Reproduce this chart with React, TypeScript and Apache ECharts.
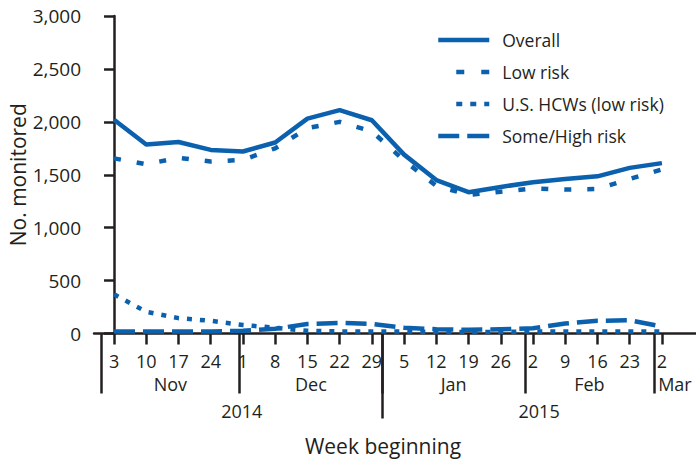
import React, { useEffect, useRef } from "react";
import * as echarts from "echarts";

// ---- Data ----
const weekDates = [
  "2014-11-03", "2014-11-10", "2014-11-17", "2014-11-24",
  "2014-12-01", "2014-12-08", "2014-12-15", "2014-12-22", "2014-12-29",
  "2015-01-05", "2015-01-12", "2015-01-19", "2015-01-26",
  "2015-02-02", "2015-02-09", "2015-02-16", "2015-02-23",
  "2015-03-02",
];
const weekLabels = ["3", "10", "17", "24", "1", "8", "15", "22", "29", "5", "12", "19", "26", "2", "9", "16", "23", "2"];
const monthStarts = ["2014-11-01", "2014-12-01", "2015-01-01", "2015-02-01", "2015-03-01"];
const monthLabels = ["Nov", "Dec", "Jan", "Feb", "Mar"];
const yearStarts = ["2014-11-01", "2015-01-01"];
const yearLabels = ["2014", "2015"];

const overall = [2020, 1785, 1810, 1735, 1720, 1805, 2030, 2110, 2015, 1690, 1450, 1335, 1385, 1430, 1460, 1485, 1565, 1610];
const lowRisk = [1655, 1600, 1660, 1625, 1640, 1750, 1940, 2000, 1910, 1635, 1395, 1310, 1340, 1370, 1360, 1365, 1460, 1550];
const usHcws = [370, 205, 145, 120, 80, 55, 25, 20, 20, 20, 15, 15, 15, 20, 20, 20, 20, 20];
const someHigh = [20, 20, 20, 20, 25, 45, 90, 100, 90, 55, 40, 35, 40, 50, 95, 120, 125, 65];

const seriesNames = ["Overall", "Low risk", "U.S. HCWs (low risk)", "Some/High risk"];

// ---- helpers ----
const DAY = 86400000;
const t0 = Date.parse(weekDates[0] + "T00:00:00Z");
const dayOf = (s: string) => (Date.parse(s + "T00:00:00Z") - t0) / DAY;

const X_MIN = -4.35;
const X_MAX = 126.4;
const SEP_SHIFT = -0.75;

const weekDays = weekDates.map(dayOf);
const monthSeps = monthStarts.map((d) => dayOf(d) + SEP_SHIFT);
const monthCenters = monthSeps.map((s, i) => (s + (i + 1 < monthSeps.length ? monthSeps[i + 1] : X_MAX)) / 2);
const yearSeps = yearStarts.map((d) => dayOf(d) + SEP_SHIFT);
const yearCenters = yearSeps.map((s, i) => (s + (i + 1 < yearSeps.length ? yearSeps[i + 1] : X_MAX)) / 2);

const lookup = (vals: number[], labels: string[]) => (v: number) => {
  const i = vals.findIndex((x) => Math.abs(x - v) < 1e-6);
  return i >= 0 ? labels[i] : "";
};

const BLUE = "#0b61ae";
const INK = "#231f20";
const FONT = "'Open Sans', 'Noto Sans', sans-serif";
const LINE_W = 4.5;
const XLABEL_SIZE = 18;

// line dash patterns (series) and legend-key patterns
const seriesDash: (number[] | "solid")[] = ["solid", [7, 16], [5, 8], [21, 8]];
const legendDash: (number[] | "solid")[] = ["solid", [0, 18, 8, 17, 8, 60], [0, 18, 6, 8, 6, 8, 5, 60], [21, 8, 22, 60]];

export default function App() {
  const ref = useRef<HTMLDivElement>(null);

  useEffect(() => {
    if (!ref.current) return;
    const chart = echarts.init(ref.current, undefined, { renderer: "svg" });

    const toPairs = (arr: number[]) => arr.map((v, i) => [weekDays[i], v]);

    const lineSeries = (name: string, data: number[], dash: number[] | "solid") => ({
      name,
      type: "line",
      xAxisIndex: 0,
      yAxisIndex: 0,
      data: toPairs(data),
      symbol: "none",
      smooth: false,
      lineStyle: { color: BLUE, width: LINE_W, type: dash, cap: "butt", join: "round" },
      itemStyle: { color: BLUE },
    });

    const baseX = {
      type: "value",
      position: "bottom",
      min: X_MIN,
      max: X_MAX,
      splitLine: { show: false },
    };

    const xLabel = (vals: number[], labels: string[], margin: number) => ({
      show: true,
      customValues: vals,
      formatter: lookup(vals, labels),
      margin,
      fontFamily: FONT,
      fontSize: XLABEL_SIZE,
      lineHeight: XLABEL_SIZE,
      color: INK,
    });

    const option: any = {
      animation: false,
      textStyle: { fontFamily: FONT, color: INK },
      grid: { left: 94, right: 0, top: 16, bottom: 127.5, containLabel: false, outerBoundsMode: "none" },
      legend: {
        orient: "vertical",
        left: 436,
        top: 31,
        padding: 0,
        itemWidth: 51,
        itemHeight: 18,
        itemGap: 14,
        itemStyle: { opacity: 0 },
        data: seriesNames.map((name, i) => ({
          name,
          lineStyle: { color: BLUE, width: LINE_W, type: legendDash[i], cap: "butt" },
          itemStyle: { opacity: 0 },
        })),
        textStyle: { fontFamily: FONT, fontSize: 17.5, color: INK, padding: [0, 0, 0, 8] },
      },
      xAxis: [
        {
          ...baseX,
          axisLine: { show: true, lineStyle: { color: INK, width: 2.5 } },
          axisTick: { show: true, customValues: weekDays, length: 11, lineStyle: { color: INK, width: 2.5 } },
          axisLabel: xLabel(weekDays, weekLabels, 18.5),
          name: "Week beginning",
          nameLocation: "middle",
          nameGap: 102,
          nameMoveOverlap: false,
          nameTextStyle: { fontFamily: FONT, fontSize: 21, color: INK, padding: [0, 24, 0, 0] },
        },
        {
          ...baseX,
          axisLine: { show: false },
          axisTick: { show: true, customValues: monthSeps, length: 60, lineStyle: { color: INK, width: 2.5 } },
          axisLabel: xLabel(monthCenters, monthLabels, 41),
        },
        {
          ...baseX,
          axisLine: { show: false },
          axisTick: { show: true, customValues: yearSeps.slice(1), length: 85, lineStyle: { color: INK, width: 2.5 } },
          axisLabel: xLabel(yearCenters, yearLabels, 68),
        },
      ],
      yAxis: {
        type: "value",
        min: 0,
        max: 3000,
        interval: 500,
        splitLine: { show: false },
        axisLine: { show: true, lineStyle: { color: INK, width: 2.5 } },
        axisTick: { show: true, length: 10, lineStyle: { color: INK, width: 2.5 } },
        axisLabel: {
          margin: 13,
          fontFamily: FONT,
          fontSize: 19,
          color: INK,
          formatter: (v: number) => v.toLocaleString("en-US"),
        },
        name: "No. monitored",
        nameLocation: "middle",
        nameGap: 66,
        nameMoveOverlap: false,
        nameTextStyle: { fontFamily: FONT, fontSize: 21, lineHeight: 21, color: INK },
      },
      series: seriesNames.map((n, i) =>
        lineSeries(n, [overall, lowRisk, usHcws, someHigh][i], seriesDash[i])
      ),
    };

    chart.setOption(option);
    return () => chart.dispose();
  }, []);

  return (
    <div
      ref={ref}
      style={{ position: "fixed", left: 0, top: 0, width: 696, height: 461, background: "#fff" }}
    />
  );
}
